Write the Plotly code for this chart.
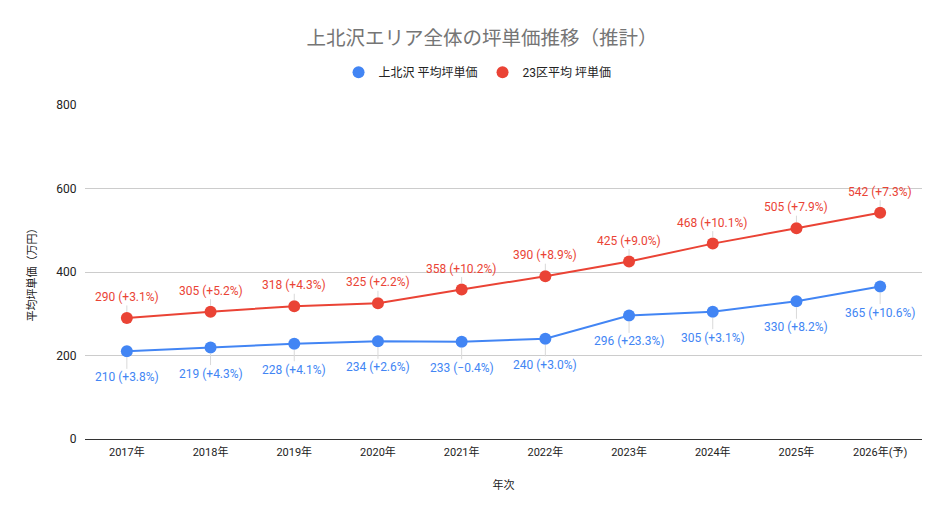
import plotly.graph_objects as go

years = ["2017年", "2018年", "2019年", "2020年", "2021年", "2022年", "2023年", "2024年", "2025年", "2026年(予)"]
kamikita = [210, 219, 228, 234, 233, 240, 296, 305, 330, 365]
kamikita_chg = ["+3.8%", "+4.3%", "+4.1%", "+2.6%", "−0.4%", "+3.0%", "+23.3%", "+3.1%", "+8.2%", "+10.6%"]
ward23 = [290, 305, 318, 325, 358, 390, 425, 468, 505, 542]
ward23_chg = ["+3.1%", "+5.2%", "+4.3%", "+2.2%", "+10.2%", "+8.9%", "+9.0%", "+10.1%", "+7.9%", "+7.3%"]
names = ["上北沢 平均坪単価", "23区平均 坪単価"]

BLUE = "#4285F4"
RED = "#EA4335"
FONT = "Roboto, Noto Sans CJK JP, sans-serif"

fig = go.Figure()
for vals, col, nm in [(kamikita, BLUE, names[0]), (ward23, RED, names[1])]:
    fig.add_trace(go.Scatter(x=years, y=vals, mode="lines+markers", name=nm, showlegend=False,
                             line=dict(color=col, width=2), marker=dict(size=12, color=col)))
for col, nm in [(BLUE, names[0]), (RED, names[1])]:
    fig.add_trace(go.Scatter(x=[None], y=[None], mode="markers", name=nm,
                             marker=dict(size=11, color=col)))

annotations = []
for x, v, c in zip(years, kamikita, kamikita_chg):
    annotations.append(dict(x=x, y=v, text=f"{v} ({c})", showarrow=True, arrowhead=0, arrowwidth=1,
                            arrowcolor="#d9d9d9", ax=0, ay=26, standoff=6,
                            font=dict(color=BLUE, size=12, family=FONT)))
for x, v, c in zip(years, ward23, ward23_chg):
    annotations.append(dict(x=x, y=v, text=f"{v} ({c})", showarrow=True, arrowhead=0, arrowwidth=1,
                            arrowcolor="#d9d9d9", ax=0, ay=-21, standoff=6,
                            font=dict(color=RED, size=12, family=FONT)))

fig.update_layout(
    width=948, height=518,
    paper_bgcolor="white", plot_bgcolor="white",
    font=dict(family=FONT, color="#222222"),
    title=dict(text="上北沢エリア全体の坪単価推移（推計）", x=0.5, xanchor="center", y=0.942, yanchor="middle",
               font=dict(size=19.5, color="#757575", family=FONT)),
    legend=dict(orientation="h", x=0.4953, xanchor="center", xref="container",
                y=0.876, yanchor="middle", yref="container",
                font=dict(size=12, color="#222222", family=FONT), itemsizing="constant",
                itemwidth=30, tracegroupgap=0),
    margin=dict(l=77, r=34, t=97, b=87, autoexpand=False),
    showlegend=True,
    annotations=annotations,
)
fig.update_xaxes(type="category", range=[-0.5, 9.5], showgrid=False, showline=True, linecolor="#333333",
                 linewidth=1, ticks="outside", ticklen=3, tickcolor="white",
                 tickfont=dict(size=11, color="#222222"), automargin=False,
                 title=dict(text="年次", font=dict(size=11, color="#222222"), standoff=23))
fig.update_yaxes(range=[0, 800], tickvals=[0, 200, 400, 600, 800], showgrid=True, gridcolor="#cccccc",
                 zeroline=True, zerolinecolor="#333333", zerolinewidth=1, showline=False,
                 tickfont=dict(size=12, color="#222222"), ticks="outside", ticklen=5, tickcolor="white",
                 automargin=False,
                 title=dict(text="平均坪単価（万円）", font=dict(size=11, color="#222222"), standoff=17))

fig.write_html("out.html")
